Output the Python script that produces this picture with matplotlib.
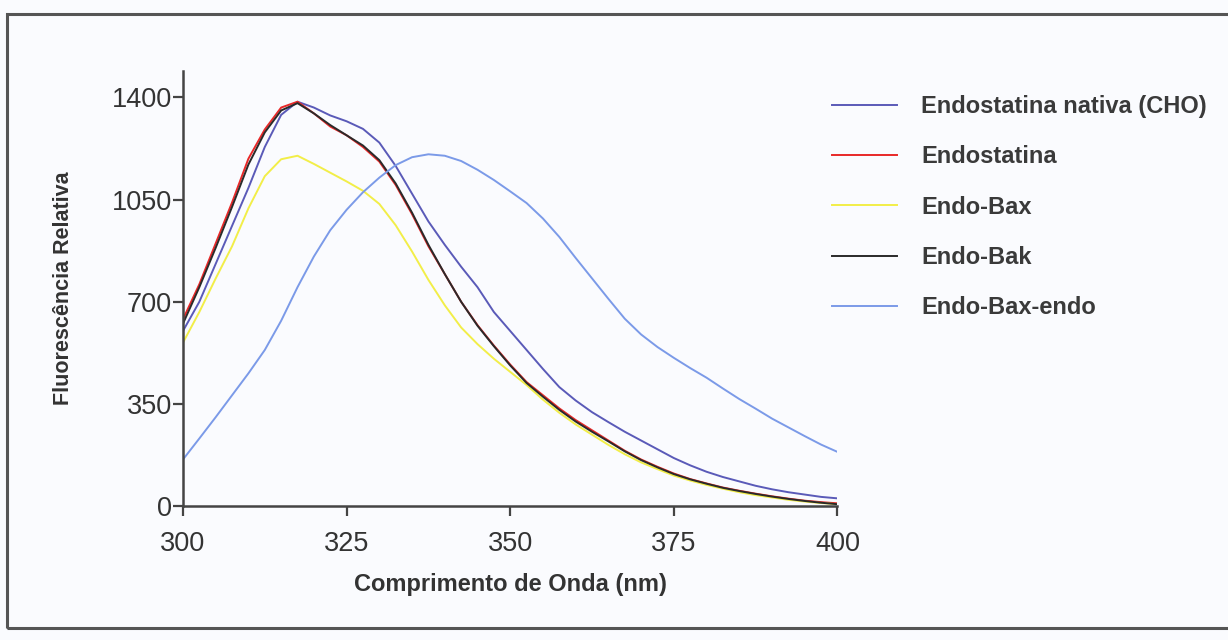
import matplotlib
matplotlib.use('Agg')
import matplotlib.pyplot as plt
import matplotlib.patches as patches
import numpy as np

# wavelength grid (nm), 2.5 nm steps
wavelength = np.arange(300, 400.1, 2.5)

# Endostatina nativa (CHO)
nativa = [600, 700, 830, 960, 1090, 1230, 1340, 1385, 1365, 1338,
          1318, 1292, 1245, 1165, 1070, 975, 895, 820, 750, 665,
          600, 535, 470, 408, 362, 322, 288, 255, 225, 195,
          165, 140, 118, 100, 85, 70, 58, 48, 40, 32, 27]

# Endostatina
endostatina = [640, 760, 900, 1040, 1190, 1290, 1365, 1385, 1345, 1300,
               1270, 1230, 1180, 1100, 1000, 890, 795, 700, 620, 550,
               485, 425, 380, 335, 295, 260, 225, 190, 160, 135,
               112, 93, 78, 64, 53, 43, 34, 26, 19, 14, 10]

# Endo-Bax
endo_bax = [560, 665, 780, 890, 1020, 1130, 1188, 1200, 1172, 1142,
            1112, 1080, 1035, 962, 872, 775, 688, 612, 555, 505,
            460, 415, 365, 320, 280, 245, 210, 178, 150, 127,
            105, 88, 73, 60, 48, 38, 30, 22, 16, 11, 7]

# Endo-Bak
endo_bak = [625, 750, 885, 1025, 1170, 1280, 1355, 1380, 1345, 1305,
            1270, 1235, 1185, 1105, 1005, 895, 795, 700, 618, 548,
            482, 422, 375, 330, 290, 255, 222, 188, 158, 133,
            110, 92, 77, 63, 52, 42, 33, 25, 18, 12, 7]

# Endo-Bax-endo
endo_bax_endo = [160, 232, 305, 380, 455, 535, 635, 750, 855, 945,
                 1015, 1075, 1125, 1168, 1195, 1205, 1200, 1182, 1152, 1117,
                 1078, 1038, 985, 922, 850, 780, 710, 642, 588, 545,
                 508, 473, 440, 403, 367, 334, 300, 270, 240, 211, 186]

series = [
    ('Endostatina nativa (CHO)', nativa, '#5a5ab8'),
    ('Endostatina', endostatina, '#e82828'),
    ('Endo-Bax', endo_bax, '#f2ee48'),
    ('Endo-Bak', endo_bak, '#2a2a2a'),
    ('Endo-Bax-endo', endo_bax_endo, '#7b9ae8'),
]

x_ticks = [300, 325, 350, 375, 400]
y_ticks = [0, 350, 700, 1050, 1400]

bold_font = ['Liberation Sans', 'DejaVu Sans']
tick_font = ['Liberation Sans', 'DejaVu Sans']
bg = '#fafbfe'

fig = plt.figure(figsize=(12.28, 6.4), dpi=100)
fig.patch.set_facecolor(bg)
ax = fig.add_axes([0.149, 0.209, 0.533, 0.68])
ax.set_facecolor(bg)

for label, vals, color in series:
    ax.plot(wavelength, vals, color=color, linewidth=1.4, label=label)

ax.set_xlim(300, 400)
ax.set_ylim(0, 1490)
ax.set_xticks(x_ticks)
ax.set_yticks(y_ticks)
ax.set_xticklabels([str(t) for t in x_ticks], family=tick_font, fontsize=19.5, color='#333333')
ax.set_yticklabels([str(t) for t in y_ticks], family=tick_font, fontsize=19.5, color='#333333')
ax.tick_params(direction='out', length=7, width=1.6, color='#444444')
ax.tick_params(axis='x', pad=11)
ax.tick_params(axis='y', pad=1)

for side in ['top', 'right']:
    ax.spines[side].set_visible(False)
for side in ['left', 'bottom']:
    ax.spines[side].set_linewidth(1.8)
    ax.spines[side].set_color('#444444')

ax.set_xlabel('Comprimento de Onda (nm)', family=bold_font, fontweight='bold',
              fontsize=17, color='#333333', labelpad=11)
ax.set_ylabel('Fluorescência Relativa', family=bold_font, fontweight='bold',
              fontsize=15.5, color='#333333', labelpad=27)

leg = fig.legend(loc='upper left', bbox_to_anchor=(0.660, 0.885), frameon=False,
                 handlelength=2.75, handletextpad=1.05, labelspacing=1.16,
                 prop={'family': bold_font, 'weight': 'bold', 'size': 17})
for t in leg.get_texts():
    t.set_color('#3a3a3a')

# outer frame around the whole figure
frame = patches.Rectangle((0.0057, 0.019), 1.2, 0.959, transform=fig.transFigure,
                          fill=False, edgecolor='#555555', linewidth=2.2)
fig.add_artist(frame)

plt.savefig('out.png', dpi=100, facecolor=bg)
